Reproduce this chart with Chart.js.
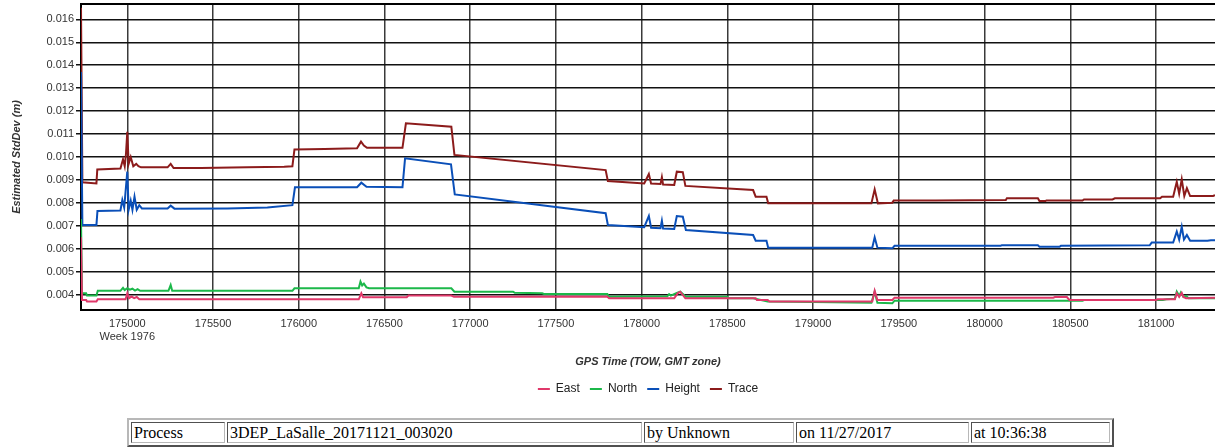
<!DOCTYPE html>
<html>
<head>
<meta charset="utf-8">
<title>Estimated StdDev</title>
<script src="https://cdn.jsdelivr.net/npm/chart.js@4.4.1/dist/chart.umd.min.js"></script>
<style>
  html, body { margin: 0; padding: 0; background: #fff; overflow: hidden; }
  #wrap { position: absolute; left: 0; top: 0; width: 1215px; height: 405px; }
  table.info {
    position: absolute; left: 127px; top: 418px; width: 987px;
    table-layout: fixed; border-collapse: separate; border-spacing: 2px;
    border: 2px solid; border-color: #b8b8b8 #505050 #505050 #b8b8b8;
    font: 16px "Liberation Serif", "Times New Roman", serif; color: #000;
  }
  table.info td {
    border: 1px solid; border-color: #505050 #b8b8b8 #b8b8b8 #505050;
    padding: 0 2px; height: 19px; line-height: 19px; white-space: nowrap; overflow: hidden;
  }
</style>
</head>
<body>
<div id="wrap"><canvas id="stddev-chart" width="1215" height="405"></canvas></div>
<table class="info">
  <tr>
    <td style="width:88px">Process</td>
    <td style="width:409px">3DEP_LaSalle_20171121_003020</td>
    <td style="width:144px">by Unknown</td>
    <td style="width:167px">on 11/27/2017</td>
    <td>at 10:36:38</td>
  </tr>
</table>
<script>
// GPS time of week (s) against estimated standard deviation (m)
const towMin = 174730;
const towMax = 181344;
const stdMin = 0.003333;
const stdMax = 0.016667;
const towTicks = [175000, 175500, 176000, 176500, 177000, 177500, 178000, 178500, 179000, 179500, 180000, 180500, 181000];
const stdTicks = [0.004, 0.005, 0.006, 0.007, 0.008, 0.009, 0.010, 0.011, 0.012, 0.013, 0.014, 0.015, 0.016];
const weekLabel = 'Week 1976';

const east = [
  [174730, 0.0065], [174736, 0.00377], [174760, 0.00377], [174765, 0.0037], [174820, 0.0037],
  [174828, 0.0038], [174990, 0.0038], [175000, 0.00406], [175010, 0.00385], [175025, 0.00392],
  [175040, 0.00385], [175055, 0.0039], [175070, 0.0038], [176350, 0.0038], [176365, 0.00406],
  [176375, 0.00389], [176630, 0.00389], [176640, 0.00396], [176890, 0.00396], [176905, 0.00391],
  [177800, 0.00391], [177810, 0.00384], [178190, 0.00384], [178210, 0.00406], [178225, 0.00413],
  [178255, 0.00384], [178665, 0.00384], [178672, 0.00377], [178735, 0.00377], [178745, 0.0037],
  [179345, 0.0037], [179359, 0.00417], [179375, 0.00377], [179462, 0.00377], [179475, 0.00387],
  [180401, 0.00387], [180410, 0.0039], [180480, 0.0039], [180495, 0.00377], [181000, 0.00377],
  [181010, 0.0038], [181110, 0.0038], [181121, 0.00406], [181135, 0.0039], [181150, 0.00408],
  [181160, 0.0039], [181175, 0.00385], [181344, 0.00387]
];

const north = [
  [174730, 0.0073], [174736, 0.00406], [174760, 0.00406], [174765, 0.00396], [174820, 0.00396],
  [174828, 0.00417], [174960, 0.00417], [174975, 0.0043], [174985, 0.0042], [175000, 0.00428],
  [175015, 0.00422], [175030, 0.00426], [175045, 0.00418], [175060, 0.00424], [175075, 0.00417],
  [175240, 0.00417], [175253, 0.00442], [175262, 0.00417], [175963, 0.00417], [175975, 0.00428],
  [176350, 0.00428], [176360, 0.00457], [176370, 0.0044], [176380, 0.00448], [176395, 0.00432],
  [176410, 0.00428], [176890, 0.00428], [176908, 0.00413], [177250, 0.00413], [177260, 0.00408],
  [177420, 0.00406], [177430, 0.00403], [177800, 0.00403], [177810, 0.00391], [178150, 0.00393],
  [178160, 0.00402], [178170, 0.00396], [178205, 0.00408], [178225, 0.00413], [178250, 0.00396],
  [178260, 0.00391], [178500, 0.00391], [178510, 0.00384], [178650, 0.00384], [178735, 0.0037],
  [179000, 0.00368], [179340, 0.00365], [179359, 0.00413], [179375, 0.00365], [179462, 0.003625],
  [179475, 0.00374], [180571, 0.00374], [180580, 0.00377], [181040, 0.00377], [181060, 0.0038],
  [181110, 0.00382], [181121, 0.00413], [181135, 0.00395], [181145, 0.0041], [181160, 0.0039],
  [181175, 0.00395], [181190, 0.00385], [181344, 0.00385]
];

const height = [
  [174730, 0.0137], [174738, 0.00704], [174820, 0.00704], [174826, 0.00765], [174960, 0.00767],
  [174971, 0.00813], [174982, 0.0078], [175000, 0.00936], [175008, 0.0077], [175020, 0.0081],
  [175030, 0.0077], [175042, 0.00827], [175055, 0.0077], [175070, 0.0079], [175085, 0.00776],
  [175235, 0.00776], [175253, 0.00788], [175275, 0.00775], [175584, 0.00776], [175817, 0.0078],
  [175963, 0.0079], [175978, 0.00868], [176340, 0.00868], [176365, 0.00888], [176395, 0.0087],
  [176605, 0.00868], [176620, 0.00994], [176888, 0.00968], [176910, 0.00837], [177790, 0.00755],
  [177803, 0.00704], [178015, 0.00694], [178042, 0.00743], [178055, 0.00692], [178110, 0.0069],
  [178118, 0.00722], [178125, 0.00688], [178190, 0.00686], [178205, 0.00743], [178240, 0.0074],
  [178258, 0.00682], [178650, 0.0066], [178665, 0.00635], [178728, 0.00635], [178738, 0.00605],
  [179345, 0.00605], [179359, 0.0065], [179375, 0.00605], [179462, 0.00602], [179475, 0.00613],
  [180093, 0.00613], [180100, 0.00615], [180311, 0.00615], [180320, 0.00609], [180437, 0.00609],
  [180445, 0.00613], [180963, 0.00615], [180975, 0.00627], [181100, 0.00627], [181121, 0.00675],
  [181135, 0.0064], [181150, 0.00696], [181163, 0.0064], [181180, 0.0066], [181199, 0.00635],
  [181300, 0.00635], [181320, 0.00637], [181344, 0.00637]
];

const trace = [
  [174730, 0.0165], [174738, 0.0089], [174820, 0.00885], [174825, 0.00946], [174960, 0.0095],
  [174975, 0.0099], [174985, 0.0096], [174992, 0.0101], [175000, 0.0111], [175008, 0.0097],
  [175020, 0.01], [175035, 0.0096], [175052, 0.0097], [175065, 0.0096], [175080, 0.00955],
  [175235, 0.00955], [175253, 0.0097], [175270, 0.00952], [175430, 0.00952], [175700, 0.00955],
  [175915, 0.00958], [175963, 0.0096], [175975, 0.01033], [176150, 0.01035], [176340, 0.01038],
  [176363, 0.01067], [176380, 0.0105], [176398, 0.0104], [176605, 0.0104], [176625, 0.01147],
  [176890, 0.01132], [176908, 0.01009], [177790, 0.00943], [177803, 0.00895], [178015, 0.00885],
  [178042, 0.00926], [178055, 0.00884], [178110, 0.00882], [178118, 0.00912], [178125, 0.0088],
  [178190, 0.00878], [178205, 0.00936], [178240, 0.00934], [178255, 0.00874], [178650, 0.00856],
  [178665, 0.00827], [178728, 0.00827], [178738, 0.00798], [179340, 0.00798], [179359, 0.00859],
  [179378, 0.00798], [179462, 0.00801], [179470, 0.0081], [179714, 0.0081], [180124, 0.00813],
  [180130, 0.0082], [180311, 0.0082], [180320, 0.00808], [180355, 0.00808], [180360, 0.0081],
  [180571, 0.0081], [180580, 0.00815], [180746, 0.00815], [180760, 0.0082], [181024, 0.0082],
  [181035, 0.00827], [181100, 0.00827], [181121, 0.00892], [181135, 0.0084], [181150, 0.00903],
  [181165, 0.0083], [181180, 0.00864], [181199, 0.0083], [181333, 0.0083], [181344, 0.00834]
];

const sans = '"Liberation Sans", Arial, sans-serif';
Chart.defaults.font.family = sans;

const series = (label, color, pts) => ({
  label,
  data: pts.map(([x, y]) => ({ x, y })),
  borderColor: color,
  backgroundColor: color,
  borderWidth: 2,
  pointRadius: 0,
  fill: false,
  tension: 0,
});

const axisTitle = { size: 11, weight: 'bold', style: 'italic' };

new Chart(document.getElementById('stddev-chart'), {
  type: 'line',
  data: {
    datasets: [
      series('East', '#e0386a', east),
      series('North', '#1cb84a', north),
      series('Height', '#0a4fb8', height),
      series('Trace', '#8c1b1b', trace),
    ],
  },
  options: {
    responsive: false,
    animation: false,
    devicePixelRatio: 1,
    layout: { padding: { top: 4, left: 0, right: 0, bottom: 0 } },
    plugins: {
      tooltip: { enabled: false },
      legend: {
        position: 'bottom',
        fullSize: false,
        labels: {
          usePointStyle: true,
          pointStyle: 'line',
          pointStyleWidth: 12,
          boxHeight: 12,
          padding: 10,
          color: '#222',
          font: { size: 12 },
        },
      },
    },
    scales: {
      x: {
        type: 'linear',
        position: 'bottom',
        min: towMin,
        max: towMax,
        afterBuildTicks: (s) => { s.ticks = towTicks.map((v) => ({ value: v })); },
        afterFit: (s) => { s.height = 63; },
        grid: { color: '#3a3a3a', lineWidth: 1.5, drawTicks: false },
        border: { color: '#000', width: 2 },
        ticks: {
          padding: 7,
          color: '#333',
          autoSkip: false,
          maxRotation: 0,
          font: { size: 11 },
          callback: (v) => (v === towTicks[0] ? [String(v), weekLabel] : String(v)),
        },
        title: {
          display: true,
          text: 'GPS Time (TOW, GMT zone)',
          color: '#333',
          font: axisTitle,
          padding: { top: 4, bottom: 4 },
        },
      },
      xTop: {
        type: 'linear',
        position: 'top',
        min: towMin,
        max: towMax,
        afterFit: (s) => { s.height = 0; },
        grid: { display: false, drawTicks: false },
        ticks: { display: false },
        border: { color: '#000', width: 2 },
      },
      y: {
        min: stdMin,
        max: stdMax,
        afterBuildTicks: (s) => { s.ticks = stdTicks.map((v) => ({ value: v })); },
        // fixed axis width, and no extra room reserved above the top label
        afterFit: (s) => { s.width = 81; s.paddingTop = 0; s.paddingBottom = 0; },
        grid: { color: '#111', lineWidth: 1.5, tickLength: 5 },
        border: { color: '#000', width: 2 },
        ticks: {
          padding: 2,
          color: '#333',
          font: { size: 11 },
          callback: (v) => v.toFixed(3),
        },
        title: {
          display: true,
          text: 'Estimated StdDev (m)',
          color: '#333',
          font: axisTitle,
          padding: { top: 10, bottom: 0 },
        },
      },
    },
  },
});
</script>
</body>
</html>
